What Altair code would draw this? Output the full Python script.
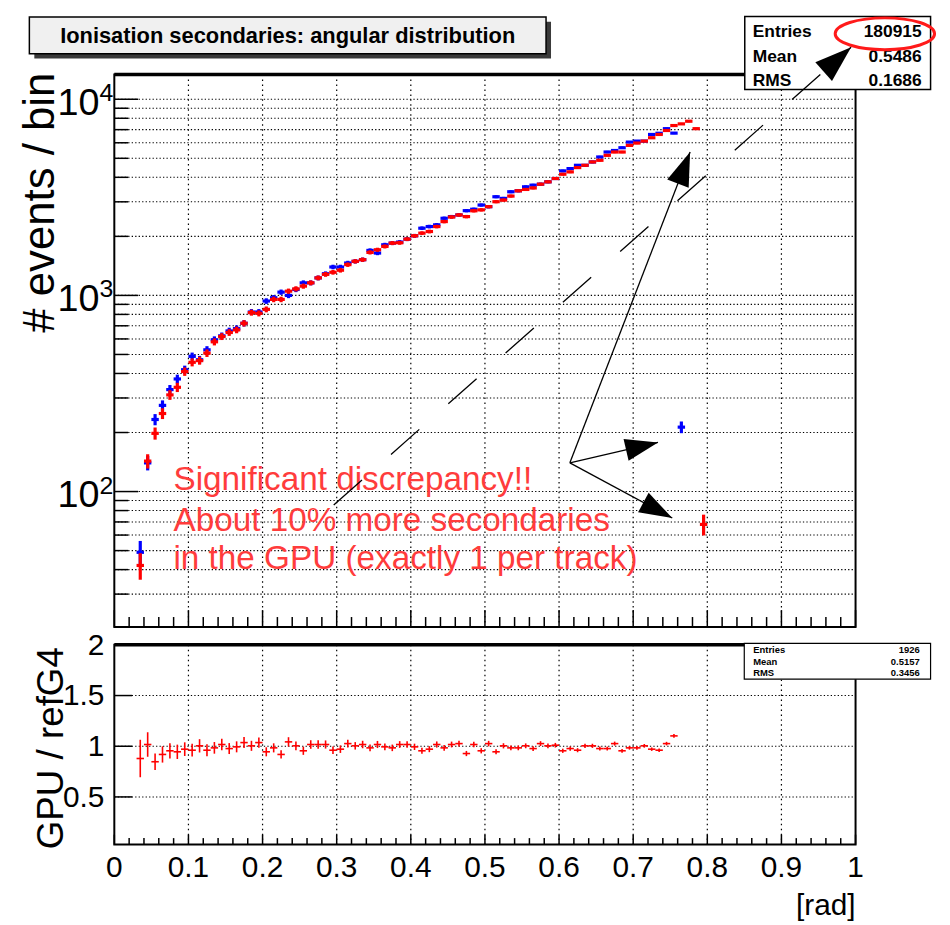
import math
import altair as alt
import pandas as pd

# ---------------- values ----------------
BIN_WIDTH = 0.01            # rad
FIRST_BIN_CENTRE = 0.035    # rad

# reference Geant4 histogram (blue), entries per bin from 0.035 rad upward
refg4_counts = [49, 140, 233, 275, 331, 375, 418, 489, 470, 528,
                594, 622, 659, 677, 721, 823, 823, 936, 973, 1039,
                1000, 1072, 1159, 1159, 1228, 1290, 1396, 1396, 1463, 1492,
                1521, 1696, 1644, 1812, 1848, 1870, 1936, 2013, 2201, 2244,
                2290, 2473, 2522, 2571, 2704, 2750, 2889, 2834, 3184, 3123,
                3376, 3415, 3578, 3648, 3691, 3793, 3944, 4313, 4432, 4607,
                4607, 4790, 5078, 5383, 5480, 5661, 6048, 6120, 6120, 6615,
                6710, 7080, 6720, 213]
# GPU histogram (red)
gpu_counts = [42, 143, 198, 250, 311, 340, 409, 456, 465, 508,
              580, 617, 647, 667, 721, 817, 810, 849, 954, 954,
              1051, 1080, 1115, 1159, 1228, 1280, 1312, 1344, 1435, 1492,
              1521, 1657, 1709, 1777, 1848, 1855, 1936, 2013, 2077, 2117,
              2244, 2379, 2510, 2571, 2522, 2700, 2730, 2834, 3004, 3062,
              3209, 3415, 3469, 3530, 3691, 3793, 3944, 4148, 4263, 4484,
              4607, 4790, 4885, 5178, 5383, 5383, 5817, 5980, 6120, 6364,
              6615, 6930, 7345, 7490, 7727, 7080, 68]
# GPU / refG4 ratio panel, from 0.035 rad upward
ratio_values = [0.879, 1.017, 0.847, 0.919, 0.955, 0.945, 0.971, 0.961, 1.004, 0.961,
                0.984, 1.017, 0.977, 0.994, 1.036, 1.004, 1.036, 0.945, 0.984, 0.919,
                1.043, 1.004, 0.955, 1.017, 1.017, 1.017, 0.961, 0.971, 1.026, 1.004,
                1.017, 0.984, 1.017, 0.994, 0.984, 1.017, 1.017,
                0.994, 0.955, 0.971, 1.017, 0.984, 1.017, 1.026, 0.928, 1.017, 0.955,
                1.026, 0.945, 1.004, 0.984, 0.984, 1.004, 0.977, 1.026, 1.004, 1.010,
                0.955, 0.977, 0.961, 1.004, 1.004, 0.977, 0.977, 1.026, 0.955, 0.984,
                0.984, 1.004, 0.971, 0.961, 1.026, 1.102]

# axis ticks / labels
x_major_ticks = [0.0, 0.1, 0.2, 0.3, 0.4, 0.5, 0.6, 0.7, 0.8, 0.9, 1.0]
x_tick_labels = ['0', '0.1', '0.2', '0.3', '0.4', '0.5', '0.6', '0.7', '0.8', '0.9', '1']
x_minor_ticks = [0.02, 0.04, 0.06, 0.08, 0.12, 0.14, 0.16, 0.18, 0.22, 0.24,
                 0.26, 0.28, 0.32, 0.34, 0.36, 0.38, 0.42, 0.44, 0.46, 0.48,
                 0.52, 0.54, 0.56, 0.58, 0.62, 0.64, 0.66, 0.68, 0.72, 0.74,
                 0.76, 0.78, 0.82, 0.84, 0.86, 0.88, 0.92, 0.94, 0.96, 0.98]
top_major_ticks = [100, 1000, 10000]
top_major_exponents = ['2', '3', '4']
top_minor_ticks = [30, 40, 50, 60, 70, 80, 90,
                   200, 300, 400, 500, 600, 700, 800, 900,
                   2000, 3000, 4000, 5000, 6000, 7000, 8000, 9000]
ratio_ticks = [0.5, 1.0, 1.5, 2.0]
ratio_tick_labels = ['0.5', '1', '1.5', '2']

title_text = 'Ionisation secondaries: angular distribution'
stats_names = ['Entries', 'Mean', 'RMS']
top_stats_values = ['180915', '0.5486', '0.1686']
bottom_stats_values = ['1926', '0.5157', '0.3456']
y_title_top = '# events / bin'
y_title_bottom = 'GPU / refG4'
x_title = '[rad]'

# annotation (data units: rad, entries)
note_lines = ['Significant discrepancy!!', 'About 10% more secondaries',
              'in the GPU (exactly 1 per track)']
note_x = [0.0798, 0.0798, 0.0798]
note_y = [102, 63.2, 40.1]
arrow_x0 = [0.6146, 0.6146, 0.6146]
arrow_y0 = [140.1, 140.1, 140.1]
arrow_x1 = [0.7335, 0.7527, 0.7768]
arrow_y1 = [178, 73.3, 5383]
dash_x = [0.296, 0.994]
dash_y = [85.3, 18430]

# ---------------- styling ----------------
FONT = 'Liberation Sans'
BLUE = '#0000ff'
RED = '#ff0000'
NOTE_RED = '#ff3c3c'
W, H_TOP, H_BOT = 746, 556, 201
ARROW = 'M0,0 L0.34,1 L-0.34,1 Z'
k = 0.5523
r = 0.32
ELLIPSE = (f'M-1,0 C-1,{-r*k} {-k},{-r} 0,{-r} C{k},{-r} 1,{-r*k} 1,0 '
           f'C1,{r*k} {k},{r} 0,{r} C{-k},{r} -1,{r*k} -1,0 Z')
H_DASH = [1.3, 2.2]
V_DASH = [1.5, 3.5]

one = pd.DataFrame({'a': [0]})


def hist_frame(counts):
    rows = []
    for i, n in enumerate(counts):
        c = round(FIRST_BIN_CENTRE + i * BIN_WIDTH, 3)
        e = math.sqrt(n)
        rows.append({'x': c, 'xl': c - BIN_WIDTH / 2, 'xr': c + BIN_WIDTH / 2,
                     'y': n, 'lo': n - e, 'hi': n + e})
    return pd.DataFrame(rows)


blue_df = hist_frame(refg4_counts)
red_df = hist_frame(gpu_counts)

ratio_rows = []
for i, rv in enumerate(ratio_values):
    c = round(FIRST_BIN_CENTRE + i * BIN_WIDTH, 3)
    e = rv * math.sqrt(1.0 / gpu_counts[i] + 1.0 / refg4_counts[i])
    ratio_rows.append({'x': c, 'xl': c - BIN_WIDTH / 2, 'xr': c + BIN_WIDTH / 2,
                       'y': rv, 'lo': rv - e, 'hi': rv + e})
ratio_df = pd.DataFrame(ratio_rows)

xs = alt.Scale(domain=[0, 1], nice=False, zero=False)
ys_top = alt.Scale(type='log', domain=[20.4, 13370], nice=False)
ys_bot = alt.Scale(domain=[0.03, 2.0], nice=False, zero=False)


def X(field):
    return alt.X(field, type='quantitative', scale=xs, axis=None)


def crosses(df, color, width, ys):
    h = alt.Chart(df).mark_rule(color=color, strokeWidth=width).encode(
        x=X('xl'), x2=alt.X2('xr'), y=alt.Y('y:Q', scale=ys, axis=None))
    v = alt.Chart(df).mark_rule(color=color, strokeWidth=width).encode(
        x=X('x'), y=alt.Y('lo:Q', scale=ys, axis=None), y2=alt.Y2('hi'))
    return [h, v]


def hgrid(vals, ys):
    return alt.Chart(pd.DataFrame({'v': vals})).mark_rule(
        color='black', strokeWidth=1.1, strokeDash=H_DASH).encode(
        y=alt.Y('v:Q', scale=ys, axis=None), x=alt.value(0), x2=alt.value(W))


def vgrid(vals, h):
    return alt.Chart(pd.DataFrame({'v': vals})).mark_rule(
        color='black', strokeWidth=1.2, strokeDash=V_DASH).encode(
        x=X('v'), y=alt.value(0), y2=alt.value(h))


def yticks(vals, ys, length, width=1.5):
    return alt.Chart(pd.DataFrame({'v': vals})).mark_rule(color='black', strokeWidth=width).encode(
        y=alt.Y('v:Q', scale=ys, axis=None), x=alt.value(0), x2=alt.value(length))


def xticks(vals, h, length, width=1.5):
    return alt.Chart(pd.DataFrame({'v': vals})).mark_rule(color='black', strokeWidth=width).encode(
        x=X('v'), y=alt.value(h - length), y2=alt.value(h))


def box(x0, x1, y0, y1, fill, stroke='black', sw=1.5):
    return alt.Chart(one).mark_rect(fill=fill, stroke=stroke, strokeWidth=sw).encode(
        x=alt.value(x0), x2=alt.value(x1), y=alt.value(y0), y2=alt.value(y1))


def label(text, x, y, size, align='left', weight='normal', color='black', angle=0,
          baseline='alphabetic', line_height=None):
    kw = dict(font=FONT, fontSize=size, align=align, fontWeight=weight, color=color,
              baseline=baseline)
    if angle:
        kw['angle'] = angle
    if line_height:
        kw['lineHeight'] = line_height
    return alt.Chart(one).mark_text(**kw).encode(x=alt.value(x), y=alt.value(y), text=alt.value(text))


# ---------------- top panel ----------------
note_df = pd.DataFrame({'x': note_x, 'y': note_y, 'text': note_lines})
arrow_df = pd.DataFrame({'x0': arrow_x0, 'y0': arrow_y0, 'x1': arrow_x1, 'y1': arrow_y1,
                         'ang': [76.9, 118.2, 21.1], 'sz': [4 * 33 ** 2, 4 * 33 ** 2, 4 * 34 ** 2]})
dash_df = pd.DataFrame({'x0': [dash_x[0]], 'y0': [dash_y[0]], 'x1': [dash_x[1]], 'y1': [dash_y[1]],
                        'ang': [48.3], 'sz': [4 * 37 ** 2]})
top_lab_df = pd.DataFrame({'v': top_major_ticks, 'e': top_major_exponents})

top_layers = [
    hgrid(top_major_ticks + top_minor_ticks, ys_top),
    vgrid(x_major_ticks[1:-1], H_TOP),
]
top_layers += crosses(blue_df, BLUE, 3.2, ys_top)
top_layers += crosses(red_df, RED, 3.2, ys_top)
top_layers += [
    yticks(top_major_ticks, ys_top, 24),
    yticks(top_minor_ticks, ys_top, 14),
    xticks(x_major_ticks, H_TOP, 17),
    xticks(x_minor_ticks, H_TOP, 10),
    # y tick labels 10^n
    alt.Chart(top_lab_df).mark_text(font=FONT, fontSize=38, align='right', baseline='middle',
                                    dy=5, color='black').encode(
        y=alt.Y('v:Q', scale=ys_top, axis=None), x=alt.value(-15), text=alt.value('10')),
    alt.Chart(top_lab_df).mark_text(font=FONT, fontSize=25, align='left', baseline='middle',
                                    dy=-6, color='black').encode(
        y=alt.Y('v:Q', scale=ys_top, axis=None), x=alt.value(-15), text='e:N'),
    alt.Chart(note_df).mark_text(font=FONT, fontSize=33.5, align='left', baseline='alphabetic',
                                 color=NOTE_RED).encode(
        x=X('x'), y=alt.Y('y:Q', scale=ys_top, axis=None), text='text:N'),
    alt.Chart(one).mark_rule(color='black', strokeWidth=3.5).encode(
        x=alt.value(0), x2=alt.value(W), y=alt.value(0)),
    # title box with shadow
    box(-80.5, 439.5, -53, -16, '#3a3a3a', stroke='#3a3a3a', sw=0),
    box(-85.5, 434.5, -58, -21, '#f0f0f0'),
    label(title_text, 174.5, -32, 22, align='center', weight='bold'),
    # statistics box
    box(634.5, 821.5, -58.5, 15, 'white'),
    label(stats_names, 642.5, -38, 17.5, weight='bold', line_height=25),
    label(top_stats_values, 812.5, -38, 17.5, align='right', weight='bold', line_height=25),
    alt.Chart(one).mark_point(shape=ELLIPSE, filled=False, color='#ff1a1a', strokeWidth=3,
                              opacity=1, size=4 * 50 ** 2).encode(x=alt.value(775.5), y=alt.value(-41)),
    # arrows drawn above the boxes
    alt.Chart(arrow_df).mark_rule(color='black', strokeWidth=1.3).encode(
        x=X('x0'), y=alt.Y('y0:Q', scale=ys_top, axis=None),
        x2=alt.X2('x1'), y2=alt.Y2('y1')),
    alt.Chart(dash_df).mark_rule(color='black', strokeWidth=1.3, strokeDash=[38, 39]).encode(
        x=X('x0'), y=alt.Y('y0:Q', scale=ys_top, axis=None),
        x2=alt.X2('x1'), y2=alt.Y2('y1')),
    alt.Chart(pd.concat([arrow_df, dash_df])).mark_point(shape=ARROW, filled=True, color='black',
                                                         opacity=1, strokeWidth=0).encode(
        x=X('x1'), y=alt.Y('y1:Q', scale=ys_top, axis=None),
        angle=alt.Angle('ang:Q', scale=None), size=alt.Size('sz:Q', scale=None)),
    label(y_title_top, -73.5, 129, 44, align='center', angle=270, baseline='middle'),
    # white anchor fixing the page's top-left corner
    alt.Chart(one).mark_rule(color='white', strokeWidth=1).encode(
        x=alt.value(-105.5), x2=alt.value(-105), y=alt.value(-59)),
]
top = alt.layer(*top_layers).properties(width=W, height=H_TOP)

# ---------------- ratio panel ----------------
xlab_df = pd.DataFrame({'v': x_major_ticks, 't': x_tick_labels})
ylab_df = pd.DataFrame({'v': ratio_ticks, 't': ratio_tick_labels})

bot_layers = [
    hgrid(ratio_ticks[:-1], ys_bot),
    vgrid(x_major_ticks[1:-1], H_BOT),
]
bot_layers += crosses(ratio_df, RED, 1.6, ys_bot)
bot_layers += [
    yticks(ratio_ticks, ys_bot, 18),
    xticks(x_major_ticks, H_BOT, 10),
    xticks(x_minor_ticks, H_BOT, 6.5),
    alt.Chart(xlab_df).mark_text(font=FONT, fontSize=30, align='center', baseline='top',
                                 color='black').encode(
        x=X('v'), y=alt.value(H_BOT + 9), text='t:N'),
    alt.Chart(ylab_df).mark_text(font=FONT, fontSize=30, align='right', baseline='middle',
                                 dy=1, color='black').encode(
        y=alt.Y('v:Q', scale=ys_bot, axis=None), x=alt.value(-10), text='t:N'),
    alt.Chart(one).mark_rule(color='black', strokeWidth=3.5).encode(
        x=alt.value(0), x2=alt.value(W), y=alt.value(0)),
    box(634, 821.5, -1.5, 34.5, 'white', sw=1.2),
    label(stats_names, 643, 7.8, 9.5, weight='bold', line_height=12),
    label(bottom_stats_values, 810.5, 7.8, 9.5, align='right', weight='bold', line_height=12),
    label(y_title_bottom, -63, 104, 37, align='center', angle=270, baseline='middle'),
    label(x_title, 746, 272, 30, align='right'),
]
bottom = alt.layer(*bot_layers).properties(width=W, height=H_BOT)

chart = alt.vconcat(top, bottom, spacing=18, bounds='flush').properties(
    padding=0).configure_view(stroke='black', strokeWidth=2)

chart.save('out.html', embed_options={'renderer': 'svg', 'actions': False})
